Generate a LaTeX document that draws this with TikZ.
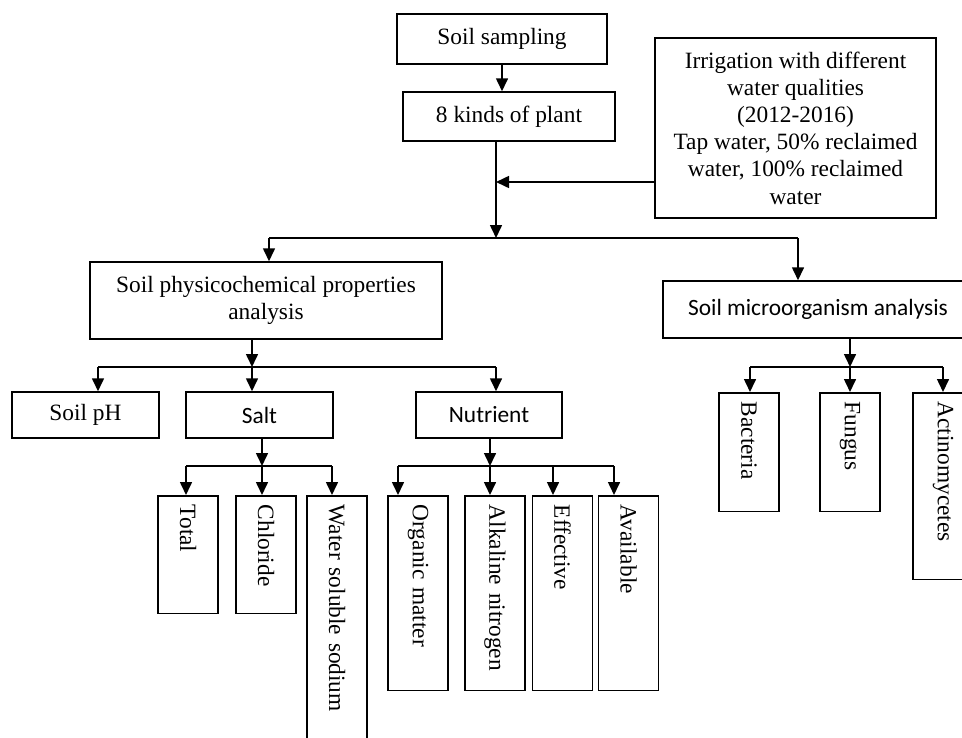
\documentclass[tikz,border=0pt]{standalone}
\usepackage{fontspec}
\setmainfont{Liberation Serif}
\newfontfamily\calibri{Carlito}
\usetikzlibrary{arrows.meta}

\begin{document}
\begin{tikzpicture}[x=0.02cm,y=-0.02cm,font=\fontsize{13.3}{15.5}\selectfont,
  box/.style={draw,line width=0.85pt,align=center,inner sep=2pt},
  vbox/.style={draw,line width=0.85pt,rotate=-90,anchor=west,minimum height=1.2cm,inner xsep=0.18cm,align=left},
  arr/.style={line width=1pt,-{Triangle[width=6.8pt,length=7.4pt]}},
  bus/.style={line width=1pt}]
\clip (0,0) rectangle (962,737);
% top part
\node[box,minimum width=4.2cm,minimum height=1cm] (sampling) at (502,39) {Soil sampling};
\node[box,minimum width=4.24cm,minimum height=0.98cm] (plant) at (509,116.5) {8 kinds of plant};
\node[box,minimum width=5.62cm,minimum height=3.6cm] (irrigation) at (795.5,128) {Irrigation with different\\water qualities\\(2012-2016)\\Tap water, 50\% reclaimed\\water, 100\% reclaimed\\water};
\node[box,minimum width=7.04cm,minimum height=1.54cm] (physico) at (266,300.5) {Soil physicochemical properties\\analysis};
\node[box,minimum width=6.2cm,minimum height=1.14cm,font=\calibri\fontsize{13.3}{15.5}\selectfont] (micro) at (818,309.5) {Soil microorganism analysis};
% second row
\node[box,minimum width=2.94cm,minimum height=0.92cm] (soilph) at (85.5,415) {Soil pH};
\node[box,minimum width=2.94cm,minimum height=0.92cm,font=\calibri\fontsize{13.3}{15.5}\selectfont] (salt) at (259.5,415) {Salt};
\node[box,minimum width=2.92cm,minimum height=0.92cm,font=\calibri\fontsize{13.3}{15.5}\selectfont] (nutrient) at (489,415) {Nutrient};
% vertical boxes
\node[vbox,text width=2.0cm] (total) at (188,495) {Total};
\node[vbox,text width=2.0cm] (chloride) at (266,495) {Chloride};
\node[vbox,text width=4.84cm] (water) at (337,495) {Water soluble sodium};
\node[vbox,text width=3.54cm] (organic) at (418,495) {Organic matter};
\node[vbox,text width=3.54cm] (alkaline) at (495,495) {Alkaline nitrogen};
\node[vbox,text width=3.54cm] (effective) at (562.5,495) {Effective};
\node[vbox,text width=3.54cm] (available) at (628.5,495) {Available};
\node[vbox,text width=2.02cm] (bacteria) at (749,392) {Bacteria};
\node[vbox,text width=2.02cm] (fungus) at (850,392) {Fungus};
\node[vbox,text width=3.38cm] (actino) at (943,392) {Actinomycetes};
% connectors
\coordinate (join) at (496,182);
\coordinate (hub) at (496,238);
\coordinate (topL) at (269,238);
\coordinate (topR) at (798,238);
\draw[arr] (sampling.south) -- (sampling.south |- plant.north);
\draw[arr] (plant.south -| hub) -- (hub);
\draw[arr] (irrigation.west |- join) -- (join);
\draw[bus] (topL) -- (topR);
\draw[arr] (topL) -- (topL |- physico.north);
\draw[arr] (topR) -- (topR |- micro.north);
\coordinate (pbus) at (252,367);
\coordinate (pL) at (98,367);
\coordinate (pR) at (496,367);
\draw[arr] (physico.south -| pbus) -- (pbus);
\draw[bus] (pL) -- (pR);
\draw[arr] (pL) -- (pL |- soilph.north);
\draw[arr] (pbus) -- (pbus |- salt.north);
\draw[arr] (pR) -- (pR |- nutrient.north);
\coordinate (sbus) at (262,466);
\coordinate (sL) at (186,466);
\coordinate (sR) at (332,466);
\draw[arr] (salt.south -| sbus) -- (sbus);
\draw[bus] (sL) -- (sR);
\draw[arr] (sL) -- (sL |- total.west);
\draw[arr] (sbus) -- (sbus |- chloride.west);
\draw[arr] (sR) -- (sR |- water.west);
\coordinate (nbus) at (490,466);
\coordinate (nL) at (398,466);
\coordinate (nE) at (553,466);
\coordinate (nR) at (614,466);
\draw[arr] (nutrient.south -| nbus) -- (nbus);
\draw[bus] (nL) -- (nR);
\draw[arr] (nL) -- (nL |- organic.west);
\draw[arr] (nbus) -- (nbus |- alkaline.west);
\draw[arr] (nE) -- (nE |- effective.west);
\draw[arr] (nR) -- (nR |- available.west);
\coordinate (mbus) at (850,367);
\coordinate (mL) at (750,367);
\coordinate (mR) at (943,367);
\draw[arr] (micro.south -| mbus) -- (mbus);
\draw[bus] (mL) -- (mR);
\draw[arr] (mL) -- (mL |- bacteria.west);
\draw[arr] (mbus) -- (mbus |- fungus.west);
\draw[arr] (mR) -- (mR |- actino.west);
\end{tikzpicture}
\end{document}
